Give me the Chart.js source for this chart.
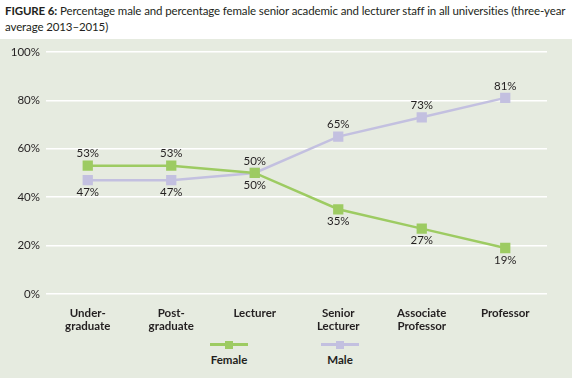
<!DOCTYPE html>
<html>
<head>
<meta charset="utf-8">
<script src="https://cdn.jsdelivr.net/npm/chart.js@4"></script>
<style>
  body { margin: 0; background: #fff; width: 582px; height: 385px; position: relative; overflow: hidden; font-family: Lato, sans-serif; }
  #title { position: absolute; left: 5px; top: 3px; width: 577px; font-size: 11.5px; letter-spacing: -0.12px; line-height: 16px; color: #231f20; white-space: nowrap; }
  #title b { font-weight: bold; }
  #panel { position: absolute; left: 0; top: 39px; width: 572px; height: 339px; background: #e6ebe0; }
  #wrap { position: absolute; left: 0; top: 0; width: 572px; height: 300px; }
  .leg { position: absolute; top: 304px; font-size: 11.5px; font-weight: bold; color: #231f20; text-align: center; width: 60px; }
  .leg .ln { position: relative; height: 3px; width: 38px; margin: 0 auto 7px auto; }
  .leg .sq { position: absolute; left: 15px; top: -2.5px; width: 8px; height: 8px; }
</style>
</head>
<body>
<div id="title"><b>FIGURE 6:</b> Percentage male and percentage female senior academic and lecturer staff in all universities (three-year<br>average 2013–2015)</div>
<div id="panel">
  <div id="wrap"><canvas id="chart"></canvas></div>
  <div class="leg" style="left:199px"><div class="ln" style="background:#9dcb62"><div class="sq" style="background:#9dcb62"></div></div>Female</div>
  <div class="leg" style="left:310px"><div class="ln" style="background:#c3c0e0"><div class="sq" style="background:#c3c0e0"></div></div>Male</div>
</div>
<script>
const categories = [['Under-', 'graduate'], ['Post-', 'graduate'], 'Lecturer', ['Senior', 'Lecturer'], ['Associate', 'Professor'], 'Professor'];
const female = [53, 53, 50, 35, 27, 19];
const male = [47, 47, 50, 65, 73, 81];
const yTicks = [0, 20, 40, 60, 80, 100];

const green = '#9dcb62';
const purple = '#c3c0e0';

// labels: the higher series gets its label above, the other below
const valueLabels = {
    id: 'valueLabels',
    afterDatasetsDraw(chart) {
        const ctx = chart.ctx;
        ctx.save();
        ctx.font = '11.5px Lato, sans-serif';
        ctx.fillStyle = '#231f20';
        ctx.textAlign = 'center';
        ctx.textBaseline = 'middle';
        const m0 = chart.getDatasetMeta(0).data;
        const m1 = chart.getDatasetMeta(1).data;
        for (let i = 0; i < female.length; i++) {
            const fUp = female[i] >= male[i];
            const f = m0[i], m = m1[i];
            ctx.fillText(female[i] + '%', f.x, f.y + (fUp ? -12 : 12));
            ctx.fillText(male[i] + '%', m.x, m.y + (fUp ? 12 : -12));
        }
        ctx.restore();
    }
};

new Chart(document.getElementById('chart'), {
    type: 'line',
    data: {
        labels: categories,
        datasets: [
            { label: 'Female', data: female, borderColor: green, backgroundColor: green, borderWidth: 2.5,
              pointStyle: 'rect', pointRadius: 5.5, pointHoverRadius: 5.5, tension: 0 },
            { label: 'Male', data: male, borderColor: purple, backgroundColor: purple, borderWidth: 2.5,
              pointStyle: 'rect', pointRadius: 5.5, pointHoverRadius: 5.5, tension: 0 }
        ]
    },
    options: {
        responsive: true,
        maintainAspectRatio: false,
        animation: false,
        layout: { padding: { left: 0, right: 25, top: 12, bottom: 0 } },
        plugins: { legend: { display: false }, tooltip: { enabled: false } },
        scales: {
            x: {
                offset: true,
                grid: { display: false },
                border: { display: false },
                ticks: { color: '#231f20', font: { family: 'Lato', size: 11.5, weight: 'bold' }, padding: 4, maxRotation: 0, autoSkip: false },
                afterFit: s => { s.height = 45; }
            },
            y: {
                min: 0, max: 100,
                afterBuildTicks: s => { s.ticks = yTicks.map(v => ({ value: v })); },
                grid: { color: '#ffffff', lineWidth: 1.5, drawTicks: false },
                border: { display: false },
                ticks: { color: '#231f20', font: { family: 'Lato', size: 11.5 }, padding: 6, callback: v => v + '%' },
                afterFit: s => { s.width = 46; }
            }
        }
    },
    plugins: [valueLabels]
});
</script>
</body>
</html>
